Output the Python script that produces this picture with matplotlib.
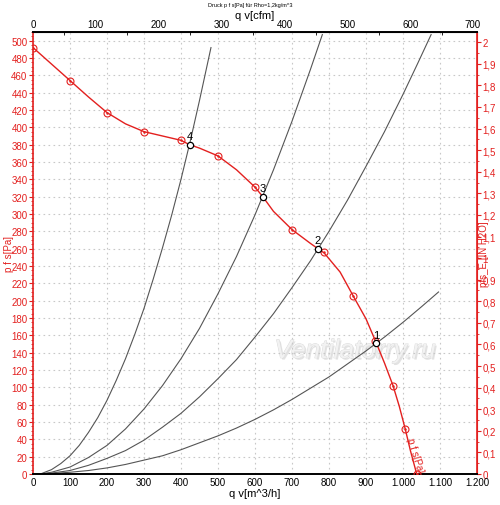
import matplotlib
matplotlib.use('Agg')

import matplotlib.pyplot as plt
import matplotlib.patheffects as pe
from matplotlib.ticker import MultipleLocator, FixedLocator, FuncFormatter, AutoMinorLocator

# fan curve p f s [Pa] over q v [m^3/h]
fan_q = [0, 50, 100, 150, 200, 250, 300, 350, 400, 423, 450, 500, 550, 600, 621, 650, 700,
         750, 770, 787, 830, 866, 900, 928, 950, 973, 990, 1006, 1020, 1037]
fan_p = [492, 473, 454, 435, 417, 404, 395, 390, 385, 380, 376, 367, 351, 331, 320, 303, 282,
         266, 260, 255, 233, 205, 179, 151, 128, 102, 78, 52, 27, 0]

# measured points (red circles)
mark_q = [0, 100, 200, 300, 400, 500, 600, 700, 787, 866, 925, 973, 1006, 1037]
mark_p = [492, 454, 417, 395, 385, 367, 331, 282, 256, 205, 154, 102, 52, 0]

# operating points
op_q = [928, 770, 621, 423]
op_p = [151, 260, 320, 380]
op_labels = ["1", "2", "3", "4"]

# system curves
sys1_q = [0, 20, 50, 100, 150, 200, 250, 300, 350, 400, 450, 500, 550, 600, 650, 700, 750,
          800, 850, 900, 950, 1000, 1050, 1096]
sys1_p = [0, 0, 0.5, 2, 4, 7, 11, 16, 21, 28, 36, 44, 53, 63, 74, 86, 99,
          112, 127, 142, 158, 175, 193, 210]
sys2_q = [0, 20, 50, 100, 150, 200, 250, 300, 350, 400, 450, 500, 550, 600, 650, 700, 750,
          800, 850, 900, 950, 1000, 1040, 1076]
sys2_p = [0, 0, 1, 4, 10, 18, 27, 39, 54, 70, 89, 110, 132, 158, 185, 215, 246,
          280, 316, 355, 395, 438, 474, 507]
sys3_q = [0, 20, 50, 100, 150, 200, 250, 300, 350, 400, 450, 500, 550, 600, 650, 700, 750, 782]
sys3_p = [0, 0, 2, 8, 19, 33, 52, 75, 102, 133, 168, 208, 251, 299, 351, 407, 467, 507]
sys4_q = [0, 20, 50, 75, 100, 125, 150, 175, 200, 225, 250, 275, 300, 325, 350, 375, 400,
          425, 450, 481]
sys4_p = [0, 0, 5, 12, 21, 33, 48, 65, 85, 108, 133, 161, 191, 225, 261, 299, 340,
          384, 431, 492]

RED = "#e3201f"
M3H_PER_CFM = 1.699
PA_PER_INH2O = 249.089


def de_fmt(v, pos=None):
    if abs(v - round(v)) < 1e-6:
        n = int(round(v))
        return f"{n:,}".replace(",", ".")
    return f"{v:.1f}".replace(".", ",")


plt.rcParams['font.family'] = ['Liberation Sans', 'DejaVu Sans']

fig = plt.figure(figsize=(5, 5.06), dpi=100)
ax = fig.add_axes([0.066, 0.0613, 0.888, 0.8735])

for q, p in [(sys1_q, sys1_p), (sys2_q, sys2_p), (sys3_q, sys3_p), (sys4_q, sys4_p)]:
    ax.plot(q, p, color="#555555", lw=0.8, zorder=2)

ax.plot(fan_q, fan_p, color=RED, lw=1.0, zorder=3)
ax.plot(mark_q, mark_p, ls="none", marker="o", ms=5, mfc="none", mec=RED, mew=0.8, zorder=4)
ax.plot(mark_q, mark_p, ls="none", marker=".", ms=1.5, color=RED, zorder=4)

ax.plot(op_q, op_p, ls="none", marker="o", ms=4.5, mfc="white", mec="black", mew=0.9, zorder=5)
for q, p, t in zip(op_q, op_p, op_labels):
    ax.text(q, p + 4, t, fontsize=8, color="black", ha="center", va="bottom", zorder=6)

ax.text(1033, 22, "p f s[Pa]", color=RED, fontsize=7, rotation=-73,
        ha="center", va="center", rotation_mode="anchor")

# watermark
ax.text(870, 142, "Ventilatorry.ru", fontsize=19, style="italic",
        color="#f2f2f2", ha="center", va="center", zorder=1,
        path_effects=[pe.withSimplePatchShadow(offset=(1.2, -1.2), shadow_rgbFace="#d0d0d0", alpha=0.6),
                      pe.withStroke(linewidth=0.6, foreground="#dadada")])

ax.set_xlim(0, 1200)
ax.set_ylim(0, 510)
ax.xaxis.set_major_locator(MultipleLocator(100))
ax.yaxis.set_major_locator(MultipleLocator(20))
ax.yaxis.set_minor_locator(AutoMinorLocator(4))
ax.xaxis.set_major_formatter(FuncFormatter(de_fmt))
ax.grid(True, which="major", color="#c8c8c8", ls=(0, (1.5, 3)), lw=0.8)

ax.tick_params(axis="x", which="both", length=0, labelsize=7, pad=2)
ax.tick_params(axis="y", which="major", colors=RED, length=3, labelsize=7, pad=1)
ax.tick_params(axis="y", which="minor", colors=RED, length=1.5)

ax.spines["left"].set_color(RED)
ax.spines["right"].set_color(RED)
ax.spines["left"].set_linewidth(1.2)
ax.spines["right"].set_linewidth(1.2)
ax.spines["bottom"].set_linewidth(1.4)
ax.spines["top"].set_linewidth(1.4)

ax.set_xlabel("q v[m^3/h]", fontsize=8, labelpad=1)
ax.set_ylabel("p f s[Pa]", fontsize=7, color=RED, labelpad=-2)

top = ax.secondary_xaxis("top", functions=(lambda q: q / M3H_PER_CFM, lambda c: c * M3H_PER_CFM))
top.xaxis.set_major_locator(FixedLocator(list(range(0, 701, 100))))
top.xaxis.set_minor_locator(FixedLocator(list(range(50, 701, 100))))
top.tick_params(which="major", length=0, labelsize=7, pad=2)
top.tick_params(which="minor", length=2, direction="in")
top.set_xlabel("q v[cfm]", fontsize=8, labelpad=1)

right = ax.secondary_yaxis("right", functions=(lambda p: p / PA_PER_INH2O, lambda h: h * PA_PER_INH2O))
right.yaxis.set_major_locator(FixedLocator([i / 10 for i in range(21)]))
right.yaxis.set_minor_locator(FixedLocator([i / 20 for i in range(1, 41, 2)]))
right.yaxis.set_major_formatter(FuncFormatter(de_fmt))
right.tick_params(which="major", colors=RED, length=3, labelsize=7, pad=1)
right.tick_params(which="minor", colors=RED, length=1.5)
right.spines["right"].set_color(RED)
right.set_ylabel("pfs_E [IN H2O]", fontsize=7, color=RED, rotation=90, labelpad=-12)

fig.text(0.5, 0.995, "Druck p f s[Pa] für Rho=1,2kg/m^3", fontsize=4, ha="center", va="top")

plt.savefig("out.png", dpi=100)
